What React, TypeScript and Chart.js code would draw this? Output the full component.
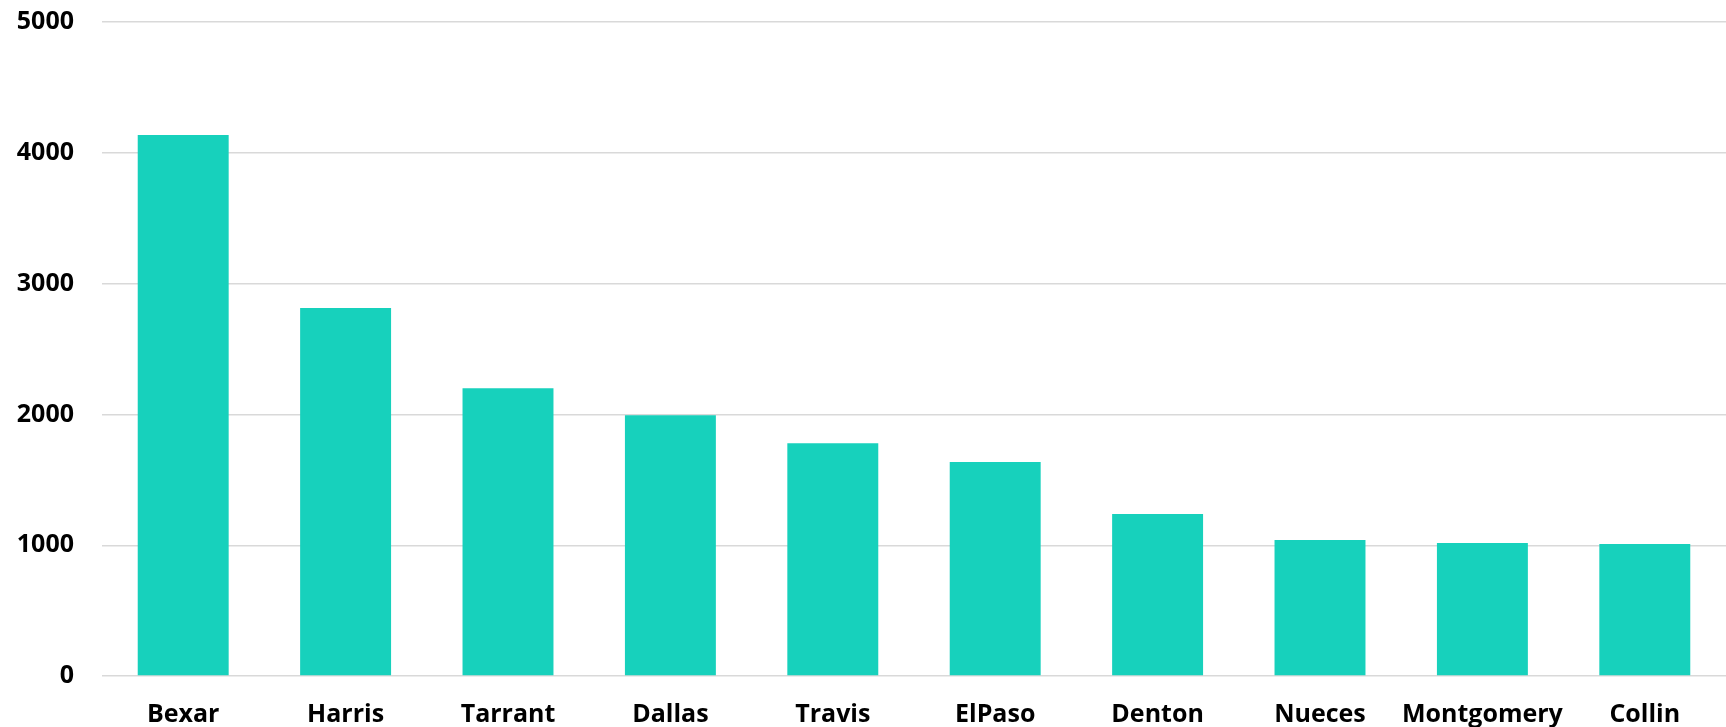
import React, { useEffect, useRef } from "react";
import { Chart, registerables } from "chart.js";

Chart.register(...registerables);

const categories = ["Bexar", "Harris", "Tarrant", "Dallas", "Travis", "ElPaso", "Denton", "Nueces", "Montgomery", "Collin"];
const values = [4136, 2813, 2199, 1993, 1779, 1636, 1239, 1040, 1017, 1009];
const yMin = 0;
const yMax = 5000;
const yStep = 1000;

export default function App() {
  const ref = useRef<HTMLCanvasElement | null>(null);

  useEffect(() => {
    if (!ref.current) return;
    const font = { family: "'Open Sans', sans-serif", size: 25, weight: "bold" as const };
    const chart = new Chart(ref.current, {
      type: "bar",
      data: {
        labels: categories,
        datasets: [
          {
            data: values,
            backgroundColor: "#17d1bc",
            borderWidth: 0,
            barPercentage: 0.56,
            categoryPercentage: 1,
          },
        ],
      },
      options: {
        responsive: false,
        animation: false,
        devicePixelRatio: 1,
        layout: { padding: { top: 22, right: 0, left: 0, bottom: 0 } },
        plugins: { legend: { display: false }, tooltip: { enabled: false } },
        scales: {
          x: {
            grid: { display: false, drawTicks: false },
            border: { display: false },
            ticks: { color: "#000", font, padding: 24, maxRotation: 0, autoSkip: false },
            afterFit: (s: any) => {
              s.height = 51;
              s.paddingLeft = 0;
              s.paddingRight = 0;
            },
          },
          y: {
            min: yMin,
            max: yMax,
            grid: { color: "#d9d9d9", lineWidth: 1.4, drawTicks: false },
            border: { display: false },
            ticks: {
              stepSize: yStep,
              color: "#000",
              font,
              padding: 28,
              callback: (v: any) => String(v),
            },
            afterFit: (s: any) => {
              s.width = 102;
              s.paddingTop = 0;
              s.paddingBottom = 0;
            },
          },
        },
      },
    });
    return () => chart.destroy();
  }, []);

  return (
    <canvas
      ref={ref}
      width={1726}
      height={727}
      style={{ position: "absolute", left: 0, top: 0, width: 1726, height: 727, display: "block", background: "#fff" }}
    />
  );
}
